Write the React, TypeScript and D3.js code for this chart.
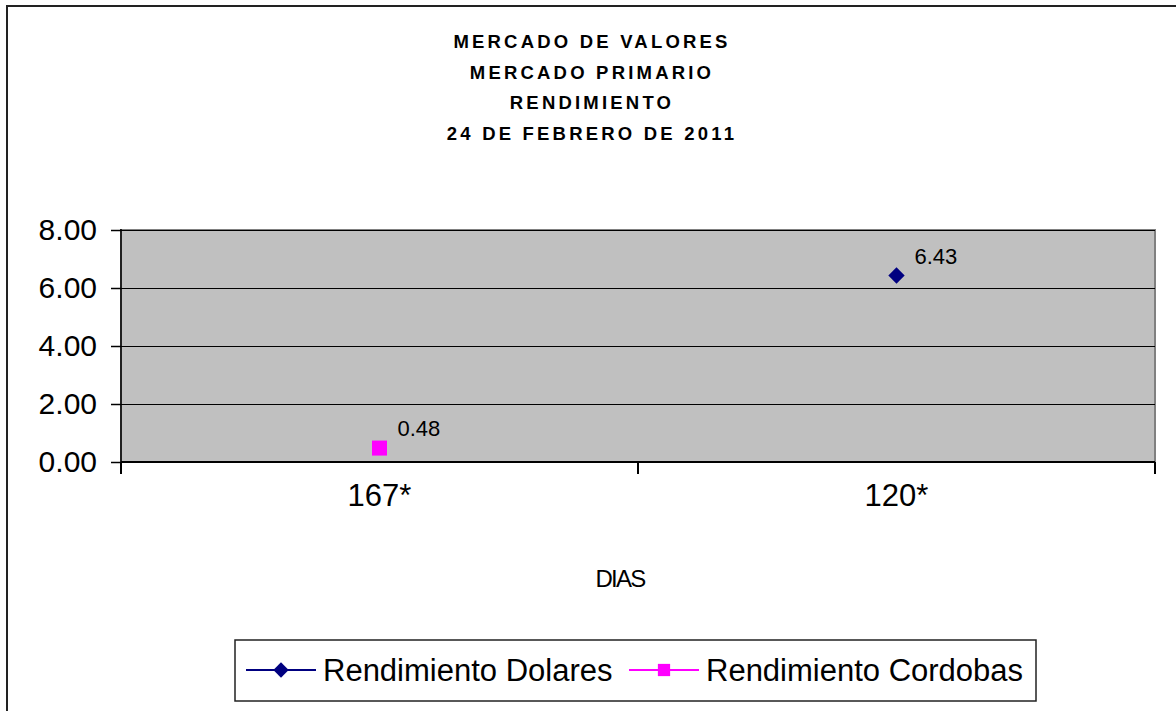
import { useEffect, useRef } from 'react';
import * as d3 from 'd3';

const TITLE_LINES = ['MERCADO DE VALORES', 'MERCADO PRIMARIO', 'RENDIMIENTO', '24 DE FEBRERO DE 2011'];
const CATEGORIES = ['167*', '120*'];
const DOLARES: (number | null)[] = [null, 6.43];
const CORDOBAS: (number | null)[] = [0.48, null];
const Y_TICKS = [0, 2, 4, 6, 8];
const X_TITLE = 'DIAS';

const SERIES = [
  { name: 'Rendimiento Dolares', values: DOLARES, color: '#000080', shape: 'diamond' },
  { name: 'Rendimiento Cordobas', values: CORDOBAS, color: '#FF00FF', shape: 'square' },
];

const FONT = 'Arial, "Liberation Sans", sans-serif';

export default function App() {
  const svgRef = useRef<SVGSVGElement>(null);

  useEffect(() => {
    document.body.style.margin = '0';
    if (!svgRef.current) return;
    const width = 1176;
    const height = 711;
    const plot = { left: 121, top: 230, right: 1155, bottom: 462 };

    const svg = d3.select(svgRef.current);
    svg.selectAll('*').remove();
    svg.append('rect').attr('width', width).attr('height', height).attr('fill', '#fff');

    // outer chart frame (runs past the window on the right and bottom)
    svg.append('rect')
      .attr('x', 7).attr('y', 6)
      .attr('width', 1200).attr('height', 760)
      .attr('fill', 'none').attr('stroke', '#222').attr('stroke-width', 2);

    // title
    svg.append('g').selectAll('text')
      .data(TITLE_LINES)
      .join('text')
      .attr('x', 592).attr('y', (_, i) => 48 + i * 30.5)
      .attr('text-anchor', 'middle')
      .attr('font-family', FONT).attr('font-weight', 'bold')
      .attr('font-size', '18.5px').attr('letter-spacing', '3.2px')
      .attr('fill', '#000')
      .text(d => d);

    const x = d3.scaleBand<string>().domain(CATEGORIES).range([plot.left, plot.right]);
    const y = d3.scaleLinear().domain([0, 8]).range([plot.bottom, plot.top]);

    // plot area
    svg.append('rect')
      .attr('x', plot.left).attr('y', plot.top)
      .attr('width', plot.right - plot.left).attr('height', plot.bottom - plot.top)
      .attr('fill', '#C0C0C0').attr('stroke', '#808080').attr('stroke-width', 2);

    // grid
    svg.append('g').selectAll('line')
      .data(Y_TICKS.filter(t => t > 0))
      .join('line')
      .attr('x1', plot.left).attr('x2', plot.right)
      .attr('y1', d => y(d)).attr('y2', d => y(d))
      .attr('stroke', '#000').attr('stroke-width', 1)
      .attr('shape-rendering', 'crispEdges');

    // y axis
    const yAxis = svg.append('g')
      .attr('transform', `translate(${plot.left},0)`)
      .call(d3.axisLeft(y).tickValues(Y_TICKS).tickSize(10).tickPadding(14).tickFormat(d => (d as number).toFixed(2)));
    yAxis.selectAll('line, path').attr('stroke', '#000').attr('stroke-width', 1.5);
    yAxis.select('.domain').attr('d', `M0,${plot.top - 1}V${plot.bottom}`);
    yAxis.selectAll('text')
      .attr('font-family', FONT).attr('font-size', '30px').attr('fill', '#000');

    // x axis
    const xAxis = svg.append('g').attr('transform', `translate(0,${plot.bottom})`);
    xAxis.append('line')
      .attr('x1', plot.left).attr('x2', plot.right)
      .attr('stroke', '#000').attr('stroke-width', 2);
    const edges = [plot.left, ...CATEGORIES.slice(1).map(c => x(c) as number), plot.right];
    xAxis.selectAll('line.tick')
      .data(edges)
      .join('line')
      .attr('class', 'tick')
      .attr('x1', d => d).attr('x2', d => d)
      .attr('y1', 0).attr('y2', 12)
      .attr('stroke', '#000').attr('stroke-width', 2);
    xAxis.selectAll('text')
      .data(CATEGORIES)
      .join('text')
      .attr('x', d => (x(d) as number) + x.bandwidth() / 2)
      .attr('y', 44)
      .attr('text-anchor', 'middle')
      .attr('font-family', FONT).attr('font-size', '31px').attr('fill', '#000')
      .text(d => d);

    svg.append('text')
      .attr('x', 620).attr('y', 587)
      .attr('text-anchor', 'middle')
      .attr('font-family', FONT).attr('font-size', '24px').attr('letter-spacing', '-1.8px')
      .attr('fill', '#000')
      .text(X_TITLE);

    const marker = (shape: string, size: number) =>
      d3.symbol().type(shape === 'diamond' ? d3.symbolDiamond2 : d3.symbolSquare).size(size)();

    // points and data labels
    SERIES.forEach(s => {
      s.values.forEach((v, i) => {
        if (v == null) return;
        const cx = (x(CATEGORIES[i]) as number) + x.bandwidth() / 2;
        const cy = y(v);
        svg.append('path')
          .attr('d', marker(s.shape, s.shape === 'diamond' ? 170 : 225))
          .attr('transform', `translate(${cx},${cy})`)
          .attr('fill', s.color);
        svg.append('text')
          .attr('x', cx + 18).attr('y', cy - 12)
          .attr('font-family', FONT).attr('font-size', '22px').attr('fill', '#000')
          .text(v.toFixed(2));
      });
    });

    // legend
    const legend = svg.append('g');
    legend.append('rect')
      .attr('x', 235).attr('y', 640).attr('width', 801).attr('height', 61)
      .attr('fill', '#fff').attr('stroke', '#222').attr('stroke-width', 1.5);
    const legendX = [246, 629];
    SERIES.forEach((s, i) => {
      const lx = legendX[i];
      const ly = 670;
      legend.append('line')
        .attr('x1', lx).attr('x2', lx + 70).attr('y1', ly).attr('y2', ly)
        .attr('stroke', s.color).attr('stroke-width', 2);
      legend.append('path')
        .attr('d', marker(s.shape, s.shape === 'diamond' ? 150 : 150))
        .attr('transform', `translate(${lx + 35},${ly})`)
        .attr('fill', s.color);
      legend.append('text')
        .attr('x', lx + 77).attr('y', ly + 11)
        .attr('font-family', FONT).attr('font-size', '31px').attr('fill', '#000')
        .text(s.name);
    });
  }, []);

  return <svg ref={svgRef} width={1176} height={711} style={{ display: 'block' }} />;
}
